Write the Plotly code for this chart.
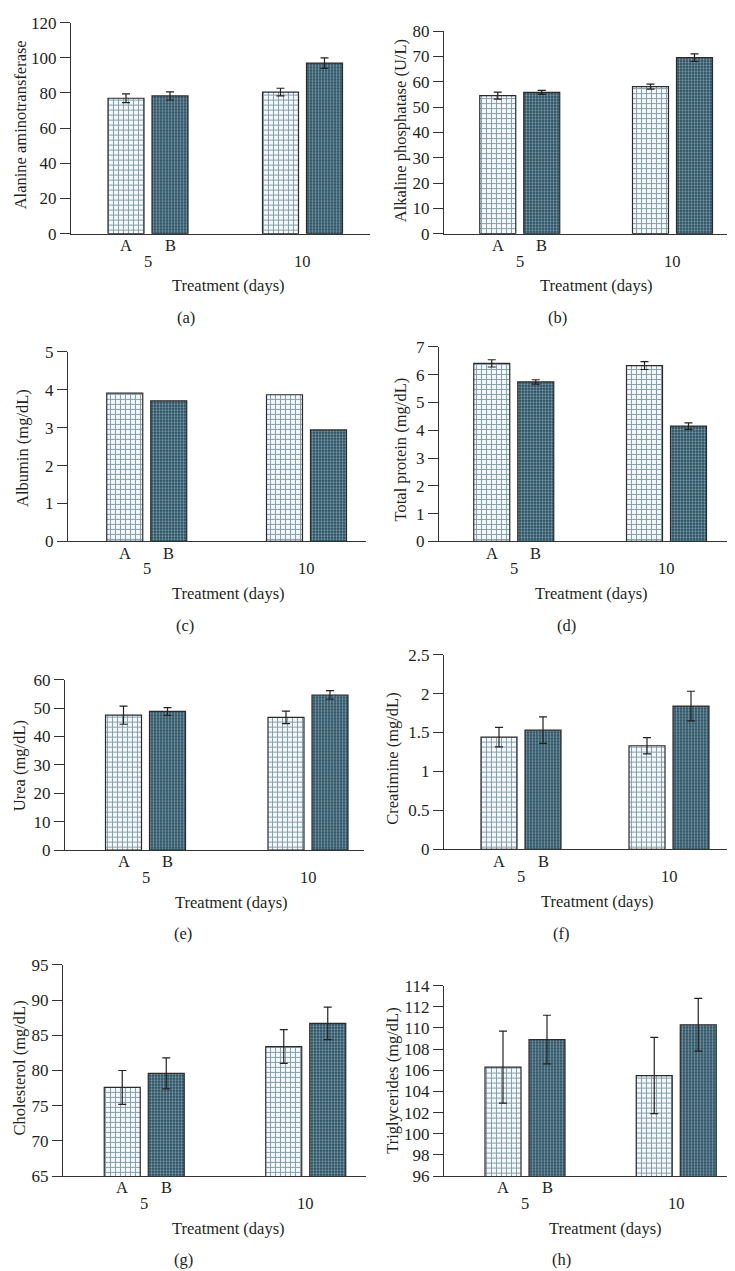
import plotly.graph_objects as go

# ---------------- data ----------------
days = ["5", "10"]
groups = ["A", "B"]
panel_tags = ["(a)", "(b)", "(c)", "(d)", "(e)", "(f)", "(g)", "(h)"]
y_titles = ["Alanine aminotransferase", "Alkaline phosphatase (U/L)", "Albumin (mg/dL)",
            "Total protein (mg/dL)", "Urea (mg/dL)", "Creatimine (mg/dL)",
            "Cholesterol (mg/dL)", "Triglycerides (mg/dL)"]
x_title = "Treatment (days)"

alt_a = [77.0, 80.5]
alt_a_err = [2.5, 2.2]
alt_b = [78.3, 97.0]
alt_b_err = [2.3, 3.0]

alp_a = [54.5, 58.1]
alp_a_err = [1.4, 1.0]
alp_b = [55.8, 69.5]
alp_b_err = [0.8, 1.5]

alb_a = [3.91, 3.87]
alb_b = [3.71, 2.94]

tp_a = [6.41, 6.33]
tp_a_err = [0.13, 0.14]
tp_b = [5.74, 4.15]
tp_b_err = [0.08, 0.12]

urea_a = [47.5, 46.7]
urea_a_err = [3.2, 2.2]
urea_b = [48.8, 54.6]
urea_b_err = [1.35, 1.5]

cre_a = [1.44, 1.33]
cre_a_err = [0.125, 0.105]
cre_b = [1.53, 1.84]
cre_b_err = [0.17, 0.19]

chol_a = [77.6, 83.4]
chol_a_err = [2.4, 2.4]
chol_b = [79.6, 86.7]
chol_b_err = [2.2, 2.3]

tg_a = [106.3, 105.5]
tg_a_err = [3.4, 3.6]
tg_b = [108.9, 110.3]
tg_b_err = [2.3, 2.5]

series = [
    (alt_a, alt_a_err, alt_b, alt_b_err),
    (alp_a, alp_a_err, alp_b, alp_b_err),
    (alb_a, None, alb_b, None),
    (tp_a, tp_a_err, tp_b, tp_b_err),
    (urea_a, urea_a_err, urea_b, urea_b_err),
    (cre_a, cre_a_err, cre_b, cre_b_err),
    (chol_a, chol_a_err, chol_b, chol_b_err),
    (tg_a, tg_a_err, tg_b, tg_b_err),
]
y_ranges = [(0, 120, 20), (0, 80, 10), (0, 5, 1), (0, 7, 1),
             (0, 60, 10), (0, 2.5, 0.5), (65, 95, 5), (96, 114, 2)]

# ---------------- layout geometry (pixels) ----------------
W, H = 735, 1271
# axis_x0, axis_x1, y_top, y_bottom, group1 center, group2 center
geom = [
    (63, 362, 5.7, 220, 140, 294.5),
    (436, 735, 14.3, 220, 511.75, 664.5),
    (60, 358, 340, 532.3, 138.75, 298.5),
    (431, 733, 335, 532.3, 505.75, 658.5),
    (57, 356, 672.7, 845.7, 137.5, 300),
    (436, 735, 647.3, 845, 513, 661),
    (55, 358, 962.3, 1176.7, 136.25, 297.75),
    (436, 735, 983.3, 1176.7, 517, 668.25),
]
ytitle_pos = [(12, 110), (392, 116), (15, 437.5), (392, 439),
              (11.5, 760), (385, 753), (12, 1067.5), (385, 1080)]
xtitle_x = [221, 588, 221, 583, 223, 589, 220, 597]
tag_x = [178, 549, 177, 558, 175, 553, 175, 553]

BAR_W = 36.0   # px
BAR_CC = 44.0  # px between A and B centers

FONT = "Liberation Serif"
FS = 16.5
TXT = "#231f20"
AX = "#333333"

fig = go.Figure()

def px(x):
    return x / W

def py(y):
    return 1 - y / H

xs = list(range(len(days)))

def label(x, y, text, xref="paper", angle=0):
    fig.add_annotation(x=x, y=y, xref=xref, yref="paper", text=text, showarrow=False,
                       xanchor="center", yanchor="middle", textangle=angle,
                       font=dict(family=FONT, size=FS, color=TXT))

for i in range(8):
    x0, x1, yt, yb, g1, g2 = geom[i]
    s = g2 - g1
    wunit = BAR_W / s
    half = BAR_CC / 2 / s
    xa = "x" if i == 0 else f"x{i+1}"
    ya = "y" if i == 0 else f"y{i+1}"
    va, ea, vb, eb = series[i]
    for vals, errs, off, name in ((va, ea, -half, groups[0]), (vb, eb, half, groups[1])):
        if name == "A":
            pattern = dict(shape="+", fgcolor="#1a475c", bgcolor="#f4f8fa", size=5, solidity=0.38)
            base_col = "#f4f8fa"
        else:
            pattern = dict(shape=".", fgcolor="#d3e0e7", bgcolor="#234c5e", size=3, solidity=0.45)
            base_col = "#234c5e"
        fig.add_trace(go.Bar(
            x=xs, y=vals, xaxis=xa, yaxis=ya, name=name, showlegend=False,
            offset=off - wunit / 2, width=wunit,
            marker=dict(color=base_col, line=dict(color="#2b2b2b", width=1.2), pattern=pattern),
            error_y=dict(type="data", array=errs, visible=errs is not None,
                         color="#222222", thickness=1.2, width=4),
        ))
    ymin, ymax, dt = y_ranges[i]
    xr = [(x0 - g1) / s, (x1 - g1) / s]
    key = "" if i == 0 else str(i + 1)
    fig.layout["xaxis" + key] = dict(
        domain=[px(x0), px(x1)], range=xr, anchor=ya,
        showticklabels=False, ticks="", showgrid=False, zeroline=False,
        showline=True, linecolor=AX, linewidth=1.3, fixedrange=True)
    fig.layout["yaxis" + key] = dict(
        domain=[py(yb), py(yt)], range=[ymin, ymax], anchor=xa,
        tick0=ymin, dtick=dt, ticks="outside", ticklen=10, tickwidth=1.2, tickcolor=AX,
        showgrid=False, zeroline=False, showline=True, linecolor=AX, linewidth=1.3,
        tickfont=dict(family=FONT, size=17, color=TXT), fixedrange=True)

    for gi, gname in enumerate(groups):
        off = -half if gi == 0 else half
        label(xs[0] + off, py(yb + 12), gname, xref=xa)
    for k, d in enumerate(days):
        label(xs[k], py(yb + 28), d, xref=xa)
    label(px(xtitle_x[i]), py(yb + 53), x_title)
    label(px(tag_x[i]), py(yb + 85), panel_tags[i])
    tx, ty = ytitle_pos[i]
    label(px(tx), py(ty), y_titles[i], angle=-90)

fig.update_layout(
    width=W, height=H, margin=dict(l=0, r=0, t=0, b=0),
    paper_bgcolor="white", plot_bgcolor="white",
    barmode="overlay", showlegend=False,
    font=dict(family=FONT, size=FS, color=TXT),
)

fig.write_html("out.html", config={"displayModeBar": False})
